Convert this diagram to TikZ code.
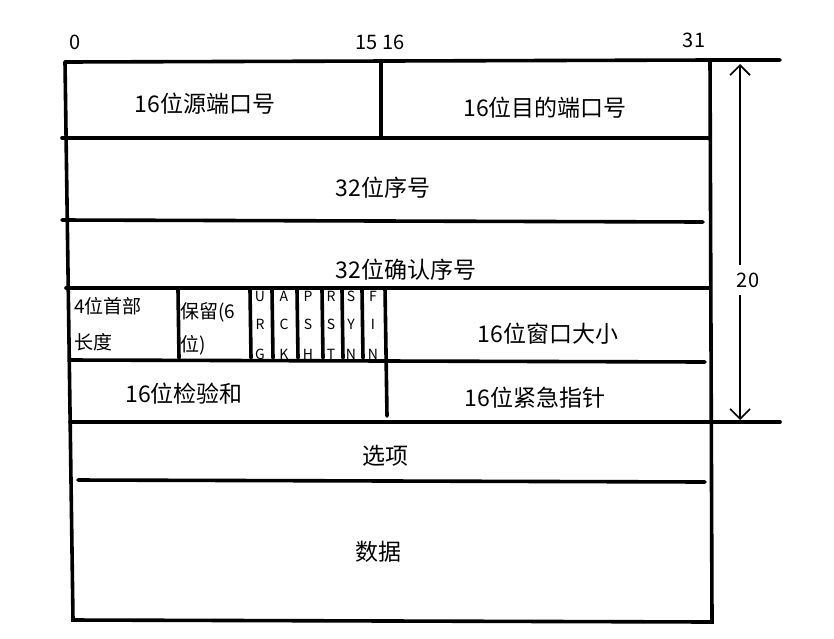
\documentclass[tikz,border=0pt]{standalone}
\usepackage{fontspec}
\setmainfont{Noto Sans CJK SC}
\usetikzlibrary{arrows.meta}
\begin{document}
\begin{tikzpicture}[x=1pt,y=-1pt,
  ln/.style={line width=3.6pt,line cap=round},
  lbl/.style={font=\fontsize{23}{26}\selectfont,inner sep=0pt},
  sm/.style={font=\fontsize{19}{22}\selectfont,inner sep=0pt,anchor=west},
  fl/.style={font=\fontsize{14}{14}\selectfont,inner sep=0pt}]
\useasboundingbox (0,0) rectangle (834,638);
\fill[white] (0,0) rectangle (834,638);
% outer
\draw[ln] (65,62) -- (710,60) -- (780,60);
\draw[ln] (65,62) -- (73,620) -- (712,622) -- (710,60);
\draw[ln] (62,138) -- (710,138);
\draw[ln] (62,220) -- (703,222);
\draw[ln] (66,288) -- (710,288);
\draw[ln] (70,360) -- (705,362);
\draw[ln] (70,422) -- (780,422);
\draw[ln] (78,480) -- (705,482);
\draw[ln] (381,62) -- (381,138);
\draw[ln] (385,288) -- (387,416);
% flag dividers
\foreach \x in {178,250,272,297,322,342,362} \draw[ln] (\x,290) -- (\x+1,358);
% dimension
\draw[line width=1.6pt,-{Straight Barb[length=10pt,width=20pt]}] (740,265) -- (740,64);
\draw[line width=1.6pt,-{Straight Barb[length=10pt,width=20pt]}] (740,295) -- (740,420);
\node[lbl,font=\fontsize{20}{22}\selectfont] (d20) at (748,280) {20};
% bit labels
\node[lbl,font=\fontsize{20}{22}\selectfont] (b0) at (75,42) {0};
\node[lbl,font=\fontsize{20}{22}\selectfont] (b15) at (380,42) {15 16};
\node[lbl,font=\fontsize{20}{22}\selectfont] (b31) at (694,40) {31};
% field labels
\node[lbl] (src) at (205,104) {16位源端口号};
\node[lbl] (dst) at (545,108) {16位目的端口号};
\node[lbl] (seq) at (383,188) {32位序号};
\node[lbl] (ack) at (406,270) {32位确认序号};
\node[sm] (hl1) at (74,306) {4位首部};
\node[sm] (hl2) at (74,342) {长度};
\node[sm] (rs1) at (180,312) {保留(6};
\node[sm] (rs2) at (180,345) {位)};
\node[fl] (u) at (260,296) {U}; \node[fl] at (260,324) {R}; \node[fl] at (260,354) {G};
\node[fl] (a) at (284,296) {A}; \node[fl] at (284,324) {C}; \node[fl] at (284,354) {K};
\node[fl] (p) at (308,296) {P}; \node[fl] at (308,324) {S}; \node[fl] at (308,354) {H};
\node[fl] (r) at (331,296) {R}; \node[fl] at (331,324) {S}; \node[fl] at (331,354) {T};
\node[fl] (s) at (351,296) {S}; \node[fl] at (351,324) {Y}; \node[fl] at (351,354) {N};
\node[fl] (f) at (373,296) {F}; \node[fl] at (373,324) {I}; \node[fl] at (373,354) {N};
\node[lbl] (win) at (548,334) {16位窗口大小};
\node[lbl] (chk) at (184,394) {16位检验和};
\node[lbl] (urg) at (535,398) {16位紧急指针};
\node[lbl] (opt) at (385,456) {选项};
\node[lbl] (data) at (378,552) {数据};
\end{tikzpicture}
\end{document}
